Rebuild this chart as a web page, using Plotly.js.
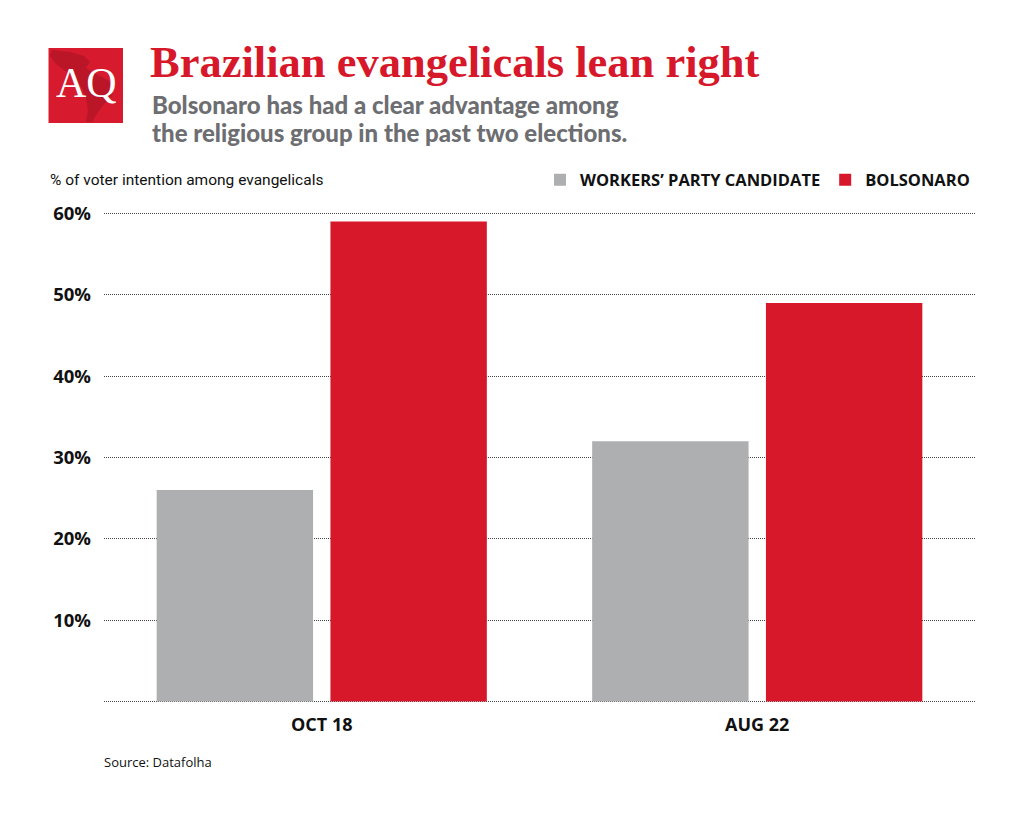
<!DOCTYPE html>
<html>
<head>
<meta charset="utf-8">
<script src="https://cdn.plot.ly/plotly-3.0.1.min.js"></script>
<style>html,body{margin:0;padding:0;background:#fff;}#chart{width:1024px;height:814px;}</style>
</head>
<body>
<div id="chart"></div>
<script>
const categories = ["OCT 18", "AUG 22"];
const seriesNames = ["WORKERS’ PARTY CANDIDATE", "BOLSONARO"];
const workersParty = [26, 32];
const bolsonaro = [59, 49];
const tickValues = [0, 10, 20, 30, 40, 50, 60];
const tickLabels = ["", "10%", "20%", "30%", "40%", "50%", "60%"];
const subtitleLines = ["Bolsonaro has had a clear advantage among", "the religious group in the past two elections."];

const GRAY = "#aeafb1";
const RED = "#d7182a";

// plot area in pixels
const L = 104, R = 975, T = 211, B = 704, W = 1024, H = 814;
const px = x => (x - L) / (R - L);
const py = y => (B - y) / (B - T);

const traces = [
  {type: "bar", name: seriesNames[0], x: categories, y: workersParty,
   marker: {color: GRAY}, hoverinfo: "none"},
  {type: "bar", name: seriesNames[1], x: categories, y: bolsonaro,
   marker: {color: RED}, hoverinfo: "none"}
];

const layout = {
  width: W, height: H,
  paper_bgcolor: "#fff", plot_bgcolor: "#fff",
  margin: {l: L, r: W - R, t: T, b: H - B, pad: 0},
  barmode: "group", bargap: 0.202, bargroupgap: 0.1,
  showlegend: true,
  legend: {orientation: "h", x: 1, xanchor: "right", y: py(180), yanchor: "middle",
           font: {family: "Open Sans", size: 16.5, color: "#111", weight: 700},
           itemwidth: 30, traceorder: "normal", bgcolor: "rgba(0,0,0,0)"},
  xaxis: {type: "category", showgrid: false, zeroline: false, showline: false,
          ticks: "", tickfont: {family: "Open Sans", size: 18, color: "#111", weight: 700},
          ticklabelstandoff: 8},
  yaxis: {range: [-0.3, 60.3], tickvals: tickValues, ticktext: tickLabels,
          showgrid: true, gridcolor: "#444", griddash: "1px,1px", gridwidth: 1,
          zeroline: false, showline: false, ticks: "",
          tickfont: {family: "Open Sans", size: 18.5, color: "#111", weight: 700},
          ticklabelstandoff: 12},
  shapes: [
    {type: "rect", xref: "paper", yref: "paper", x0: px(48.5), x1: px(123), y0: py(48), y1: py(123),
     fillcolor: "#d71a2e", line: {width: 0}, layer: "above"},
    {type: "path", xref: "paper", yref: "paper", layer: "above", fillcolor: "#a31424", opacity: 0.55, line: {width: 0},
     path: (function(){
       const pts = [[52,50],[70,52],[84,56],[90,62],[86,68],[92,72],[104,78],[114,84],[112,96],[104,104],[98,112],[92,122],[86,122],[88,110],[86,98],[82,88],[76,80],[70,74],[64,70],[56,64],[50,56]];
       return pts.map((p,i)=>(i?"L":"M")+px(p[0]).toFixed(5)+","+py(p[1]).toFixed(5)).join(" ")+" Z";
     })()}
  ],
  annotations: [
    {text: "AQ", xref: "paper", yref: "paper", x: px(86), y: py(83), xanchor: "center", yanchor: "middle",
     showarrow: false, font: {family: "Liberation Serif", size: 42, color: "#fff"}},
    {text: "<b>Brazilian evangelicals lean right</b>", xref: "paper", yref: "paper", x: px(148), y: py(62),
     xanchor: "left", yanchor: "middle", showarrow: false,
     font: {family: "Liberation Serif", size: 44.5, color: "#d7182a"}},
    {text: subtitleLines[0], xref: "paper", yref: "paper", x: px(150), y: py(105), xanchor: "left", yanchor: "middle",
     showarrow: false, font: {family: "Lato", size: 24, color: "#6d6e71", weight: 900}},
    {text: subtitleLines[1], xref: "paper", yref: "paper", x: px(150), y: py(133), xanchor: "left", yanchor: "middle",
     showarrow: false, font: {family: "Lato", size: 24, color: "#6d6e71", weight: 900}},
    {text: "% of voter intention among evangelicals", xref: "paper", yref: "paper", x: px(48), y: py(180),
     xanchor: "left", yanchor: "middle", showarrow: false,
     font: {family: "Roboto", size: 15.5, color: "#111"}},
    {text: "Source: Datafolha", xref: "paper", yref: "paper", x: px(102), y: py(762),
     xanchor: "left", yanchor: "middle", showarrow: false,
     font: {family: "Open Sans", size: 13, color: "#111"}}
  ]
};

Plotly.newPlot("chart", traces, layout, {displayModeBar: false, staticPlot: true});
</script>
</body>
</html>
